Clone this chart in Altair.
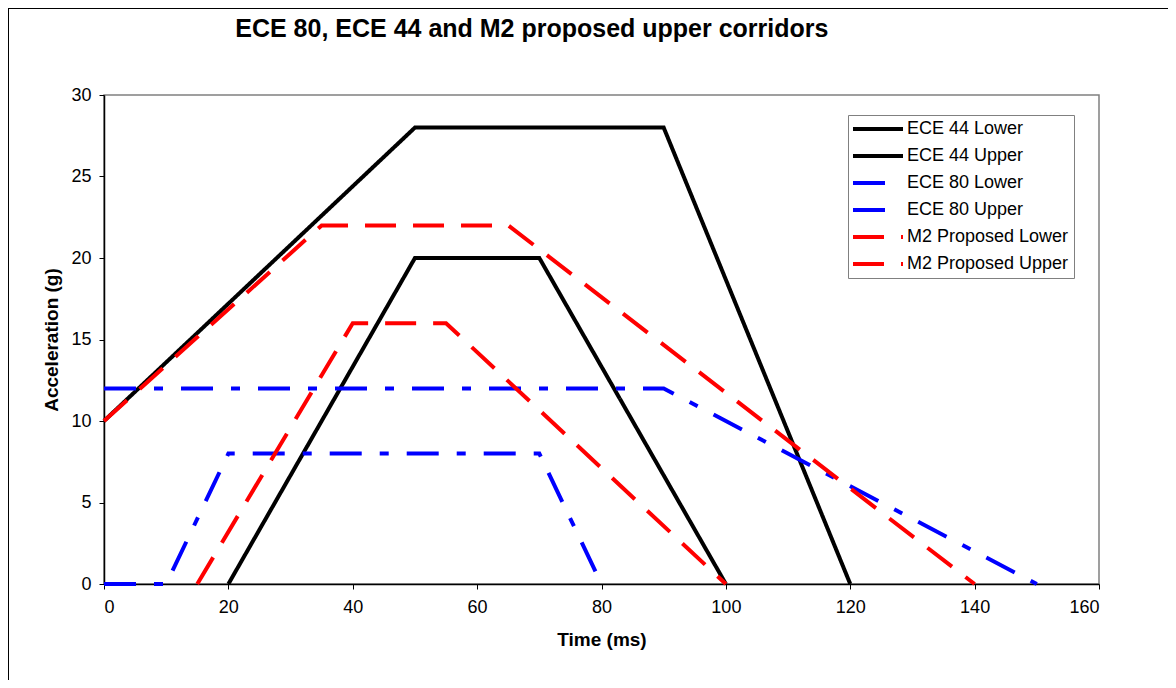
import altair as alt
import pandas as pd

series_names = ["ECE 44 Lower", "ECE 44 Upper", "ECE 80 Lower", "ECE 80 Upper",
                "M2 Proposed Lower", "M2 Proposed Upper"]
ece44_lower_x = [20, 50, 70, 100]
ece44_lower_y = [0, 20, 20, 0]
ece44_upper_x = [0, 50, 90, 120]
ece44_upper_y = [10, 28, 28, 0]
ece80_lower_x = [0, 10, 20, 70, 80]
ece80_lower_y = [0, 0, 8, 8, 0]
ece80_upper_x = [0, 90, 150]
ece80_upper_y = [12, 12, 0]
m2_lower_x = [15, 40, 55, 100]
m2_lower_y = [0, 16, 16, 0]
m2_upper_x = [0, 35, 65, 140]
m2_upper_y = [10, 22, 22, 0]

xs = [ece44_lower_x, ece44_upper_x, ece80_lower_x, ece80_upper_x, m2_lower_x, m2_upper_x]
ys = [ece44_lower_y, ece44_upper_y, ece80_lower_y, ece80_upper_y, m2_lower_y, m2_upper_y]

rows = []
for name, sx, sy in zip(series_names, xs, ys):
    for i, (a, b) in enumerate(zip(sx, sy)):
        rows.append({"series": name, "t": a, "acc": b, "ord": i})
df = pd.DataFrame(rows)

colors = ["#000000", "#000000", "#0000FF", "#0000FF", "#FF0000", "#FF0000"]
dashes = [[1, 0], [1, 0], [32, 18, 9, 18], [32, 18, 9, 18], [31, 17], [31, 17]]

FONT = "Liberation Sans"

lines = alt.Chart(df).mark_line(strokeWidth=4, clip=False).encode(
    x=alt.X("t:Q", scale=alt.Scale(domain=[0, 160], nice=False),
            axis=alt.Axis(title="Time (ms)", values=list(range(0, 161, 20)))),
    y=alt.Y("acc:Q", scale=alt.Scale(domain=[0, 30], nice=False),
            axis=alt.Axis(title="Acceleration (g)", values=list(range(0, 31, 5)))),
    color=alt.Color("series:N", scale=alt.Scale(domain=series_names, range=colors),
                    legend=alt.Legend(title=None, orient="none", legendX=744, legendY=20,
                                      symbolType="M-5,0H5", symbolSize=100,
                                      symbolOffset=16,
                                      symbolStrokeWidth=4, labelFontSize=18, labelFont=FONT,
                                      labelColor="#000000", labelOffset=20, labelLimit=400,
                                      strokeColor="#808080", padding=5, rowPadding=9,
                                      fillColor="#ffffff")),
    strokeDash=alt.StrokeDash("series:N", scale=alt.Scale(domain=series_names, range=dashes),
                              legend=None),
    order="ord:Q",
    detail="series:N",
)

frame_left = alt.Chart(df).mark_rule(color="#000000", strokeWidth=1.5).encode(
    x=alt.value(-96), y=alt.value(-87), y2=alt.value(700))
frame_top = alt.Chart(df).mark_rule(color="#000000", strokeWidth=1.5).encode(
    x=alt.value(-96), x2=alt.value(1200), y=alt.value(-87))

chart = alt.layer(lines, frame_left, frame_top).properties(
    width=995, height=489,
    padding={"left": 96, "top": 87, "right": 69, "bottom": 96},
    autosize=alt.AutoSizeParams(type="none"),
    title=alt.TitleParams("ECE 80, ECE 44 and M2 proposed upper corridors",
                          anchor="start", dx=228, offset=-35, font=FONT,
                          fontSize=25, fontWeight="bold", color="#000000"),
    background="#ffffff",
).configure_view(stroke="#808080", strokeWidth=1.5).configure_axis(
    grid=False, domainColor="#000000", domainWidth=1.5, tickColor="#000000",
    tickSize=5, labelFont=FONT, labelFontSize=18, labelColor="#000000",
    titleFont=FONT, titleFontSize=19, titleFontWeight="bold", titleColor="#000000",
).configure_axisX(labelPadding=9, titlePadding=14).configure_axisY(
    labelPadding=8, titlePadding=9)

chart.save("out.html", embed_options={"renderer": "svg", "actions": False})
